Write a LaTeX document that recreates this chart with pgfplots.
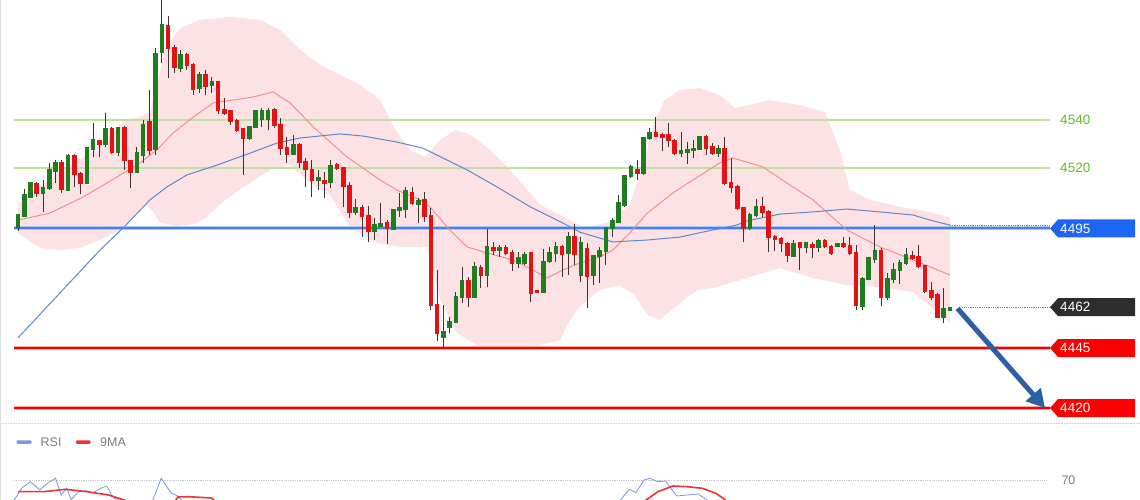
\documentclass[border=0pt]{standalone}
\usepackage{fontspec}
\setmainfont{Liberation Sans}
\usepackage{pgfplots}
\usepackage{pgfplotstable}
\pgfplotsset{compat=1.18}
\usetikzlibrary{arrows.meta}

\definecolor{upc}{RGB}{30,125,30}
\definecolor{dnc}{RGB}{228,18,18}
\definecolor{wickc}{RGB}{65,50,50}
\definecolor{bandc}{RGB}{252,226,228}
\definecolor{mac}{RGB}{245,135,135}
\definecolor{bluema}{RGB}{95,135,205}
\definecolor{greenl}{RGB}{190,225,160}
\definecolor{greent}{RGB}{105,185,45}
\definecolor{bluel}{RGB}{75,125,235}
\definecolor{redl}{RGB}{240,0,0}
\definecolor{tagblue}{RGB}{30,100,245}
\definecolor{tagdark}{RGB}{45,45,45}
\definecolor{tagred}{RGB}{250,0,0}
\definecolor{arrowc}{RGB}{45,95,165}
\definecolor{rsic}{RGB}{120,150,235}
\definecolor{nmac}{RGB}{240,50,50}
\definecolor{txtgray}{RGB}{125,125,125}

\newcommand\tagfont{\fontsize{13.5}{15}\selectfont}

\pgfplotstableread{
i o h l c d
0 4495.4 4500.8 4493.8 4500.4 1
1 4500.0 4511.2 4499.6 4508.8 1
2 4507.9 4514.2 4507.5 4513.8 1
3 4513.3 4514.2 4507.9 4509.6 0
4 4509.6 4515.0 4501.7 4511.7 1
5 4511.7 4522.1 4510.8 4519.2 1
6 4518.8 4523.3 4513.8 4522.1 1
7 4522.1 4523.3 4509.6 4511.2 0
8 4510.8 4525.8 4510.4 4525.0 1
9 4525.0 4525.8 4512.1 4517.5 0
10 4517.5 4518.3 4509.2 4513.8 0
11 4513.8 4528.8 4513.3 4528.3 1
12 4527.9 4538.8 4524.6 4531.7 1
13 4531.2 4531.7 4524.6 4530.0 0
14 4530.0 4542.9 4528.8 4536.2 1
15 4536.2 4537.1 4525.8 4526.7 0
16 4526.7 4537.1 4525.0 4536.7 1
17 4536.7 4537.5 4519.2 4523.3 0
18 4522.9 4523.3 4511.7 4518.3 0
19 4518.3 4528.8 4517.9 4526.2 1
20 4525.4 4540.0 4522.1 4537.9 1
21 4539.2 4552.5 4525.4 4527.5 0
22 4527.9 4570.0 4525.4 4567.5 1
23 4568.3 4590.0 4563.8 4579.6 1
24 4579.2 4583.3 4557.5 4570.0 0
25 4570.0 4571.2 4559.6 4562.1 0
26 4561.7 4569.2 4560.0 4567.1 1
27 4567.1 4567.9 4560.8 4562.9 0
28 4562.9 4563.8 4550.4 4552.9 0
29 4553.3 4560.0 4551.2 4558.8 1
30 4558.8 4560.8 4550.4 4554.2 0
31 4554.6 4557.9 4551.2 4555.8 1
32 4555.8 4556.2 4542.5 4544.2 0
33 4544.2 4549.2 4542.1 4542.9 0
34 4543.8 4544.2 4537.9 4539.6 0
35 4539.6 4540.4 4535.0 4535.8 0
36 4536.2 4536.7 4517.1 4532.5 0
37 4532.5 4537.5 4531.7 4537.1 1
38 4537.1 4544.2 4536.7 4543.8 1
39 4540.4 4545.0 4537.1 4543.8 1
40 4540.4 4545.0 4535.8 4543.8 1
41 4544.2 4545.0 4536.7 4537.9 0
42 4537.9 4540.8 4525.4 4528.3 0
43 4528.3 4532.9 4522.1 4525.8 0
44 4525.8 4533.8 4525.4 4529.6 1
45 4529.6 4530.4 4520.0 4522.5 0
46 4522.5 4524.2 4512.1 4519.6 0
47 4519.2 4523.3 4507.9 4515.0 0
48 4515.0 4519.2 4510.8 4515.8 1
49 4514.6 4518.3 4507.5 4513.8 0
50 4514.2 4523.3 4511.7 4520.8 1
51 4521.2 4522.1 4519.2 4520.0 0
52 4520.0 4520.4 4503.8 4512.5 0
53 4512.5 4514.2 4499.2 4501.7 0
54 4501.7 4507.1 4500.4 4503.3 1
55 4503.3 4504.6 4491.2 4500.0 0
56 4500.0 4504.2 4489.2 4493.8 0
57 4493.8 4499.2 4490.0 4496.2 1
58 4495.8 4505.4 4495.4 4496.7 1
59 4497.1 4498.3 4488.3 4495.0 0
60 4494.6 4502.9 4494.2 4502.5 1
61 4502.5 4509.6 4499.6 4503.3 1
62 4502.9 4512.1 4499.2 4510.4 1
63 4509.6 4512.1 4504.6 4505.4 0
64 4505.0 4507.5 4497.1 4506.2 1
65 4506.7 4510.0 4497.5 4500.0 0
66 4500.0 4503.3 4460.8 4462.9 0
67 4462.9 4477.5 4447.9 4451.2 0
68 4449.6 4462.9 4445.4 4451.7 1
69 4453.8 4457.9 4451.2 4455.8 1
70 4455.8 4468.3 4455.4 4466.2 1
71 4466.2 4478.8 4463.8 4472.9 1
72 4472.9 4474.6 4462.1 4466.2 0
73 4466.2 4480.8 4465.8 4478.8 1
74 4478.3 4479.6 4470.0 4475.4 0
75 4475.4 4494.6 4470.4 4487.1 1
76 4486.7 4489.2 4483.8 4485.8 0
77 4485.8 4487.9 4482.9 4486.7 1
78 4486.7 4487.9 4483.8 4484.6 0
79 4484.6 4485.8 4477.1 4480.4 0
80 4480.4 4485.0 4478.3 4482.5 1
81 4480.4 4485.0 4479.6 4483.8 1
82 4484.6 4485.0 4464.2 4467.9 0
83 4468.8 4468.8 4468.3 4468.3 0
84 4468.3 4486.2 4467.9 4480.8 1
85 4481.2 4487.1 4480.4 4484.6 1
86 4484.6 4489.2 4480.8 4487.1 1
87 4487.1 4487.9 4474.6 4484.2 0
88 4484.6 4493.3 4475.4 4491.2 1
89 4491.2 4496.7 4479.6 4484.2 0
90 4475.4 4491.2 4472.5 4488.8 1
91 4486.2 4488.8 4461.7 4475.0 0
92 4475.4 4483.8 4471.2 4483.3 1
93 4483.3 4487.1 4472.1 4485.4 1
94 4485.4 4495.4 4479.6 4495.0 1
95 4495.0 4499.2 4491.2 4497.9 1
96 4497.5 4508.8 4497.1 4505.4 1
97 4504.6 4517.1 4503.8 4516.7 1
98 4516.7 4521.2 4515.8 4520.4 1
99 4519.2 4523.3 4515.0 4517.9 0
100 4517.9 4532.9 4517.1 4532.5 1
101 4532.5 4536.7 4531.7 4534.6 1
102 4534.6 4541.2 4532.9 4533.3 0
103 4533.8 4534.6 4527.1 4532.9 0
104 4533.8 4538.8 4528.8 4531.7 0
105 4531.2 4532.1 4525.4 4526.2 0
106 4526.2 4535.0 4524.6 4527.1 1
107 4526.7 4530.8 4521.7 4527.5 1
108 4527.5 4531.7 4524.2 4527.9 1
109 4527.9 4533.3 4527.5 4532.9 1
110 4532.9 4533.8 4525.4 4528.3 0
111 4528.8 4530.4 4525.4 4526.2 0
112 4526.2 4529.6 4524.6 4527.9 1
113 4527.9 4532.9 4512.9 4513.8 0
114 4513.8 4524.2 4509.6 4512.1 0
115 4512.1 4512.9 4502.5 4503.3 0
116 4503.3 4503.8 4489.2 4495.0 0
117 4495.0 4501.2 4494.2 4500.4 1
118 4500.4 4507.1 4499.6 4503.8 1
119 4503.8 4507.9 4499.6 4501.7 0
120 4501.7 4502.5 4485.0 4491.2 0
121 4491.2 4492.1 4485.4 4490.4 0
122 4490.4 4491.2 4485.0 4488.8 0
123 4488.3 4489.2 4480.8 4483.8 0
124 4483.3 4490.0 4482.9 4488.3 1
125 4488.8 4489.2 4477.5 4487.1 0
126 4487.1 4489.2 4484.6 4488.8 1
127 4487.9 4489.2 4482.5 4487.1 0
128 4487.1 4490.4 4485.0 4489.6 1
129 4489.6 4490.4 4486.7 4487.5 0
130 4487.1 4487.9 4483.8 4484.6 0
131 4487.5 4488.8 4487.1 4488.3 1
132 4488.3 4491.2 4486.7 4487.5 0
133 4487.5 4491.2 4483.8 4484.6 0
134 4484.6 4487.9 4460.8 4462.9 0
135 4462.5 4474.6 4460.8 4473.8 1
136 4473.8 4482.9 4473.3 4482.5 1
137 4482.1 4496.2 4480.4 4485.4 1
138 4485.4 4486.7 4462.5 4466.2 0
139 4466.2 4476.2 4465.0 4473.8 1
140 4473.8 4480.4 4472.1 4477.5 1
141 4477.5 4481.7 4471.7 4480.4 1
142 4480.4 4486.7 4479.6 4483.8 1
143 4483.3 4485.4 4481.7 4482.5 0
144 4482.9 4487.9 4478.3 4479.2 0
145 4479.2 4479.6 4467.9 4468.8 0
146 4468.8 4472.5 4465.0 4466.2 0
147 4467.1 4467.9 4457.5 4457.9 0
148 4457.9 4470.0 4455.4 4461.2 1
149 4460.8 4462.0 4460.4 4461.7 1
}\tabCandles

% Bollinger band outline: upper edge left to right, then lower edge right to left
\pgfplotstableread{
i p
0 4504.6
2.7 4510.8
5.9 4517.1
9.1 4522.1
12.3 4527.5
14.7 4533.8
17.1 4540.0
19.5 4541.2
21.1 4543.3
22.4 4556.7
23.5 4569.2
25.9 4578.3
29.1 4581.7
33.9 4582.9
38.7 4581.7
41.9 4577.5
45.1 4569.2
48.3 4562.9
51.5 4558.8
54.7 4554.6
57.9 4548.3
60.3 4535.8
62.7 4527.5
65.1 4524.6
67.5 4531.7
69.9 4535.8
72.3 4533.8
75.5 4527.5
78.7 4519.2
83.5 4504.6
86.7 4500.4
90.6 4495.0
94.6 4497.5
97.8 4504.6
100.2 4523.3
101.8 4540.0
103.4 4548.3
105.8 4552.5
109.0 4553.3
112.2 4550.4
114.6 4545.0
117.0 4546.2
120.2 4548.3
125.0 4546.2
129.0 4543.3
131.4 4527.5
133.0 4510.8
136.2 4506.7
141.0 4503.8
145.8 4501.7
149.0 4499.2
149.0 4455.8
143.1 4468.3
137.8 4470.4
132.5 4471.2
127.1 4474.2
121.8 4478.3
116.5 4474.2
111.1 4470.0
108.6 4469.2
105.0 4462.1
102.6 4456.7
100.7 4458.8
98.6 4467.1
96.2 4471.2
93.0 4469.2
89.8 4462.1
88.2 4456.7
86.7 4448.3
81.9 4445.4
73.9 4445.4
70.2 4451.2
67.5 4465.0
65.4 4487.1
61.1 4487.1
57.1 4488.8
53.1 4495.4
49.9 4508.8
46.7 4513.8
43.5 4521.2
40.3 4519.2
36.6 4512.9
33.1 4506.7
29.9 4499.2
28.3 4496.7
25.1 4495.8
22.7 4497.5
21.4 4502.5
20.3 4505.4
18.7 4500.4
16.3 4494.2
13.1 4490.0
9.9 4486.7
6.7 4485.8
3.5 4486.7
0 4492.9
}\tabBand

\pgfplotstableread{
i p
0 4498.3
5.1 4501.2
10.4 4507.9
15.8 4516.2
19.5 4522.1
22.2 4527.5
24.8 4534.6
28.0 4541.2
31.2 4547.1
34.4 4548.3
37.6 4549.6
40.8 4551.7
43.5 4547.1
45.1 4542.9
47.2 4537.1
52.6 4524.6
57.9 4515.0
60.6 4510.8
64.3 4506.7
65.9 4503.8
68.6 4495.4
71.8 4487.1
75.0 4484.6
79.1 4481.7
82.3 4477.5
84.6 4474.2
87.1 4477.5
89.8 4480.4
93.0 4482.9
95.1 4485.8
97.8 4492.9
100.6 4501.2
104.7 4509.6
108.6 4516.2
112.2 4522.1
114.3 4524.2
119.1 4520.4
122.9 4513.8
127.1 4506.7
132.5 4494.2
137.8 4487.1
143.1 4481.7
149.0 4475.4
}\tabMidMA

\pgfplotstableread{
i p
0 4449.2
13.1 4485.8
16.8 4495.0
21.1 4506.7
23.8 4512.1
27.0 4517.1
31.8 4521.2
37.1 4526.2
41.4 4530.4
45.1 4532.5
51.5 4534.2
55.2 4533.3
60.6 4530.8
64.7 4528.3
68.6 4523.3
71.8 4519.2
76.6 4512.1
81.9 4503.8
87.1 4497.1
89.8 4493.3
93.0 4490.8
95.1 4489.2
100.6 4490.0
105.8 4491.2
111.1 4494.2
114.9 4496.2
116.5 4497.9
121.8 4500.8
127.1 4501.7
132.5 4502.9
137.8 4501.7
143.1 4500.4
145.8 4498.3
149.0 4496.2
}\tabLongMA

\begin{document}
\begin{tikzpicture}
\path[use as bounding box] (0pt,0pt) rectangle (1140pt,500pt);
\fill[white] (0pt,0pt) rectangle (1140pt,500pt);
\draw[gray!25, line width=1pt] (0.5pt,0pt) -- (0.5pt,500pt);

\begin{axis}[at={(0pt,75pt)}, anchor=south west, scale only axis,
  width=1140pt, height=425pt, xmin=-2.878, xmax=179.38,
  ymin=4412.92, ymax=4590, hide axis, clip=false]

% Bollinger band
\addplot[fill=bandc, draw=none, forget plot] table[x=i, y=p] {\tabBand};

% levels
\addplot[greenl, line width=1.6pt] coordinates {(-0.64,4540) (165,4540)};
\addplot[greenl, line width=1.6pt] coordinates {(-0.64,4520) (165,4520)};
\addplot[bluel!45, line width=3.2pt] coordinates {(-0.64,4495) (165,4495)};
\addplot[bluel, line width=1.8pt] coordinates {(-0.64,4495) (165,4495)};
\addplot[red!35, line width=3.8pt] coordinates {(-0.64,4445) (165,4445)};
\addplot[redl, line width=2.2pt] coordinates {(-0.64,4445) (165,4445)};
\addplot[red!35, line width=3.8pt] coordinates {(-0.64,4420) (165,4420)};
\addplot[redl, line width=2.2pt] coordinates {(-0.64,4420) (165,4420)};

% moving averages
\addplot[mac, line width=0.9pt] table[x=i, y=p] {\tabMidMA};
\addplot[bluema, line width=1pt] table[x=i, y=p] {\tabLongMA};

% dotted guides
\addplot[gray, densely dotted, line width=0.8pt] coordinates {(149,4496.2) (165,4496.2)};
\addplot[gray, densely dotted, line width=0.8pt] coordinates {(151,4462) (165,4462)};

% wicks
\addplot[draw=none, forget plot, error bars/.cd, y dir=both, y explicit,
  error mark=none, error bar style={line width=1pt, draw=wickc}]
  table[x=i, y expr={(\thisrow{h}+\thisrow{l})/2},
        y error expr={(\thisrow{h}-\thisrow{l})/2}] {\tabCandles};
% up bodies (zero length for down candles)
\addplot[draw=none, forget plot,
  error bars/.cd, y dir=both, y explicit,
  error mark=none, error bar style={line width=4.6pt, draw=upc, line cap=butt}]
  table[x=i, y expr={(\thisrow{o}+\thisrow{c})/2},
        y error expr={\thisrow{d}*(abs(\thisrow{c}-\thisrow{o})/2+0.3)}] {\tabCandles};
% down bodies (zero length for up candles)
\addplot[draw=none, forget plot,
  error bars/.cd, y dir=both, y explicit,
  error mark=none, error bar style={line width=4.6pt, draw=dnc, line cap=butt}]
  table[x=i, y expr={(\thisrow{o}+\thisrow{c})/2},
        y error expr={(1-\thisrow{d})*(abs(\thisrow{c}-\thisrow{o})/2+0.3)}] {\tabCandles};

% arrow
\draw[arrowc, line width=5pt, -{Triangle[length=18pt,width=19pt]}]
  (axis cs:150.2,4461.5) -- (axis cs:164.2,4420);

% level labels
\node[anchor=west, inner sep=0pt, text=greent, font=\tagfont] at ([xshift=10pt]axis cs:165,4540) {4540};
\node[anchor=west, inner sep=0pt, text=greent, font=\tagfont] at ([xshift=10pt]axis cs:165,4520) {4520};

% tags
\fill[tagblue] ([yshift=-0.5pt]axis cs:165,4495) -- ++(8pt,9pt) -- ++(77pt,0pt) -- ++(0pt,-18pt) -- ++(-77pt,0pt) -- cycle;
\node[anchor=west, inner sep=0pt, text=white, font=\tagfont] at ([xshift=10pt,yshift=-0.5pt]axis cs:165,4495) {4495};
\fill[tagdark] (axis cs:165,4462) -- ++(8pt,9pt) -- ++(77pt,0pt) -- ++(0pt,-18pt) -- ++(-77pt,0pt) -- cycle;
\node[anchor=west, inner sep=0pt, text=white, font=\tagfont] at ([xshift=10pt]axis cs:165,4462) {4462};
\fill[tagred] (axis cs:165,4445) -- ++(8pt,9pt) -- ++(77pt,0pt) -- ++(0pt,-18pt) -- ++(-77pt,0pt) -- cycle;
\node[anchor=west, inner sep=0pt, text=white, font=\tagfont] at ([xshift=10pt]axis cs:165,4445) {4445};
\fill[tagred] (axis cs:165,4420) -- ++(8pt,9pt) -- ++(77pt,0pt) -- ++(0pt,-18pt) -- ++(-77pt,0pt) -- cycle;
\node[anchor=west, inner sep=0pt, text=white, font=\tagfont] at ([xshift=10pt]axis cs:165,4420) {4420};
\end{axis}

\begin{axis}[at={(0pt,0pt)}, anchor=south west, scale only axis,
  width=1140pt, height=75pt, xmin=-2.878, xmax=179.38,
  ymin=50, ymax=125, hide axis, clip=false]
\addplot[gray!45, densely dotted, line width=0.8pt] coordinates {(-0.6,70) (164.5,70)};
% RSI
\addplot[rsic, line width=0.8pt] coordinates {(-0.6,50) (0.6,62) (2.0,68.3) (3.5,60) (4.7,66.7) (6.0,71.7) (6.9,55) (7.8,61.7) (8.5,50.7) (9.7,58.3) (10.8,59.3) (12.0,57.3) (13.2,61.7) (14.2,64) (15.1,53.3) (16.3,48)};
\addplot[rsic, line width=0.8pt] coordinates {(21.5,49) (22.9,71.7) (24.5,56.7) (25.6,54) (26.4,48)};
\addplot[rsic, line width=0.8pt] coordinates {(96.2,49) (97.7,60.7) (98.8,57.3) (100.1,70) (101.0,71.7) (102.3,68.3) (103.5,69) (105.3,54) (108.7,56) (110.5,49)};
% 9MA
\addplot[nmac, line width=1.6pt] coordinates {(0,58.3) (4.1,58.3) (7.6,60.7) (11.0,58.3) (14.5,55) (17.4,49)};
\addplot[nmac, line width=1.6pt] coordinates {(25.1,49) (25.6,53) (27.3,53.3) (30.9,52) (31.5,49)};
\addplot[nmac, line width=1.6pt] coordinates {(100.2,49) (102.3,58.3) (104.7,64) (107.0,63.3) (109.4,61.7) (111.6,56.7) (113.3,49)};
\node[anchor=west, inner sep=0pt, text=txtgray, font=\fontsize{12.5}{14}\selectfont] at (axis cs:166.8,70) {70};
\end{axis}

% panel separator and legend
\draw[gray!35, densely dotted, line width=0.6pt] (0pt,77pt) -- (1140pt,77pt);
\fill[rsic, rounded corners=1pt] (16.5pt,56pt) rectangle (31.5pt,59.5pt);
\node[anchor=west, inner sep=0pt, text=txtgray, font=\fontsize{12.5}{14}\selectfont] at (40.5pt,58pt) {RSI};
\fill[nmac, rounded corners=1pt] (76pt,56pt) rectangle (90.5pt,59.5pt);
\node[anchor=west, inner sep=0pt, text=txtgray, font=\fontsize{12.5}{14}\selectfont] at (100pt,58pt) {9MA};
\end{tikzpicture}
\end{document}
